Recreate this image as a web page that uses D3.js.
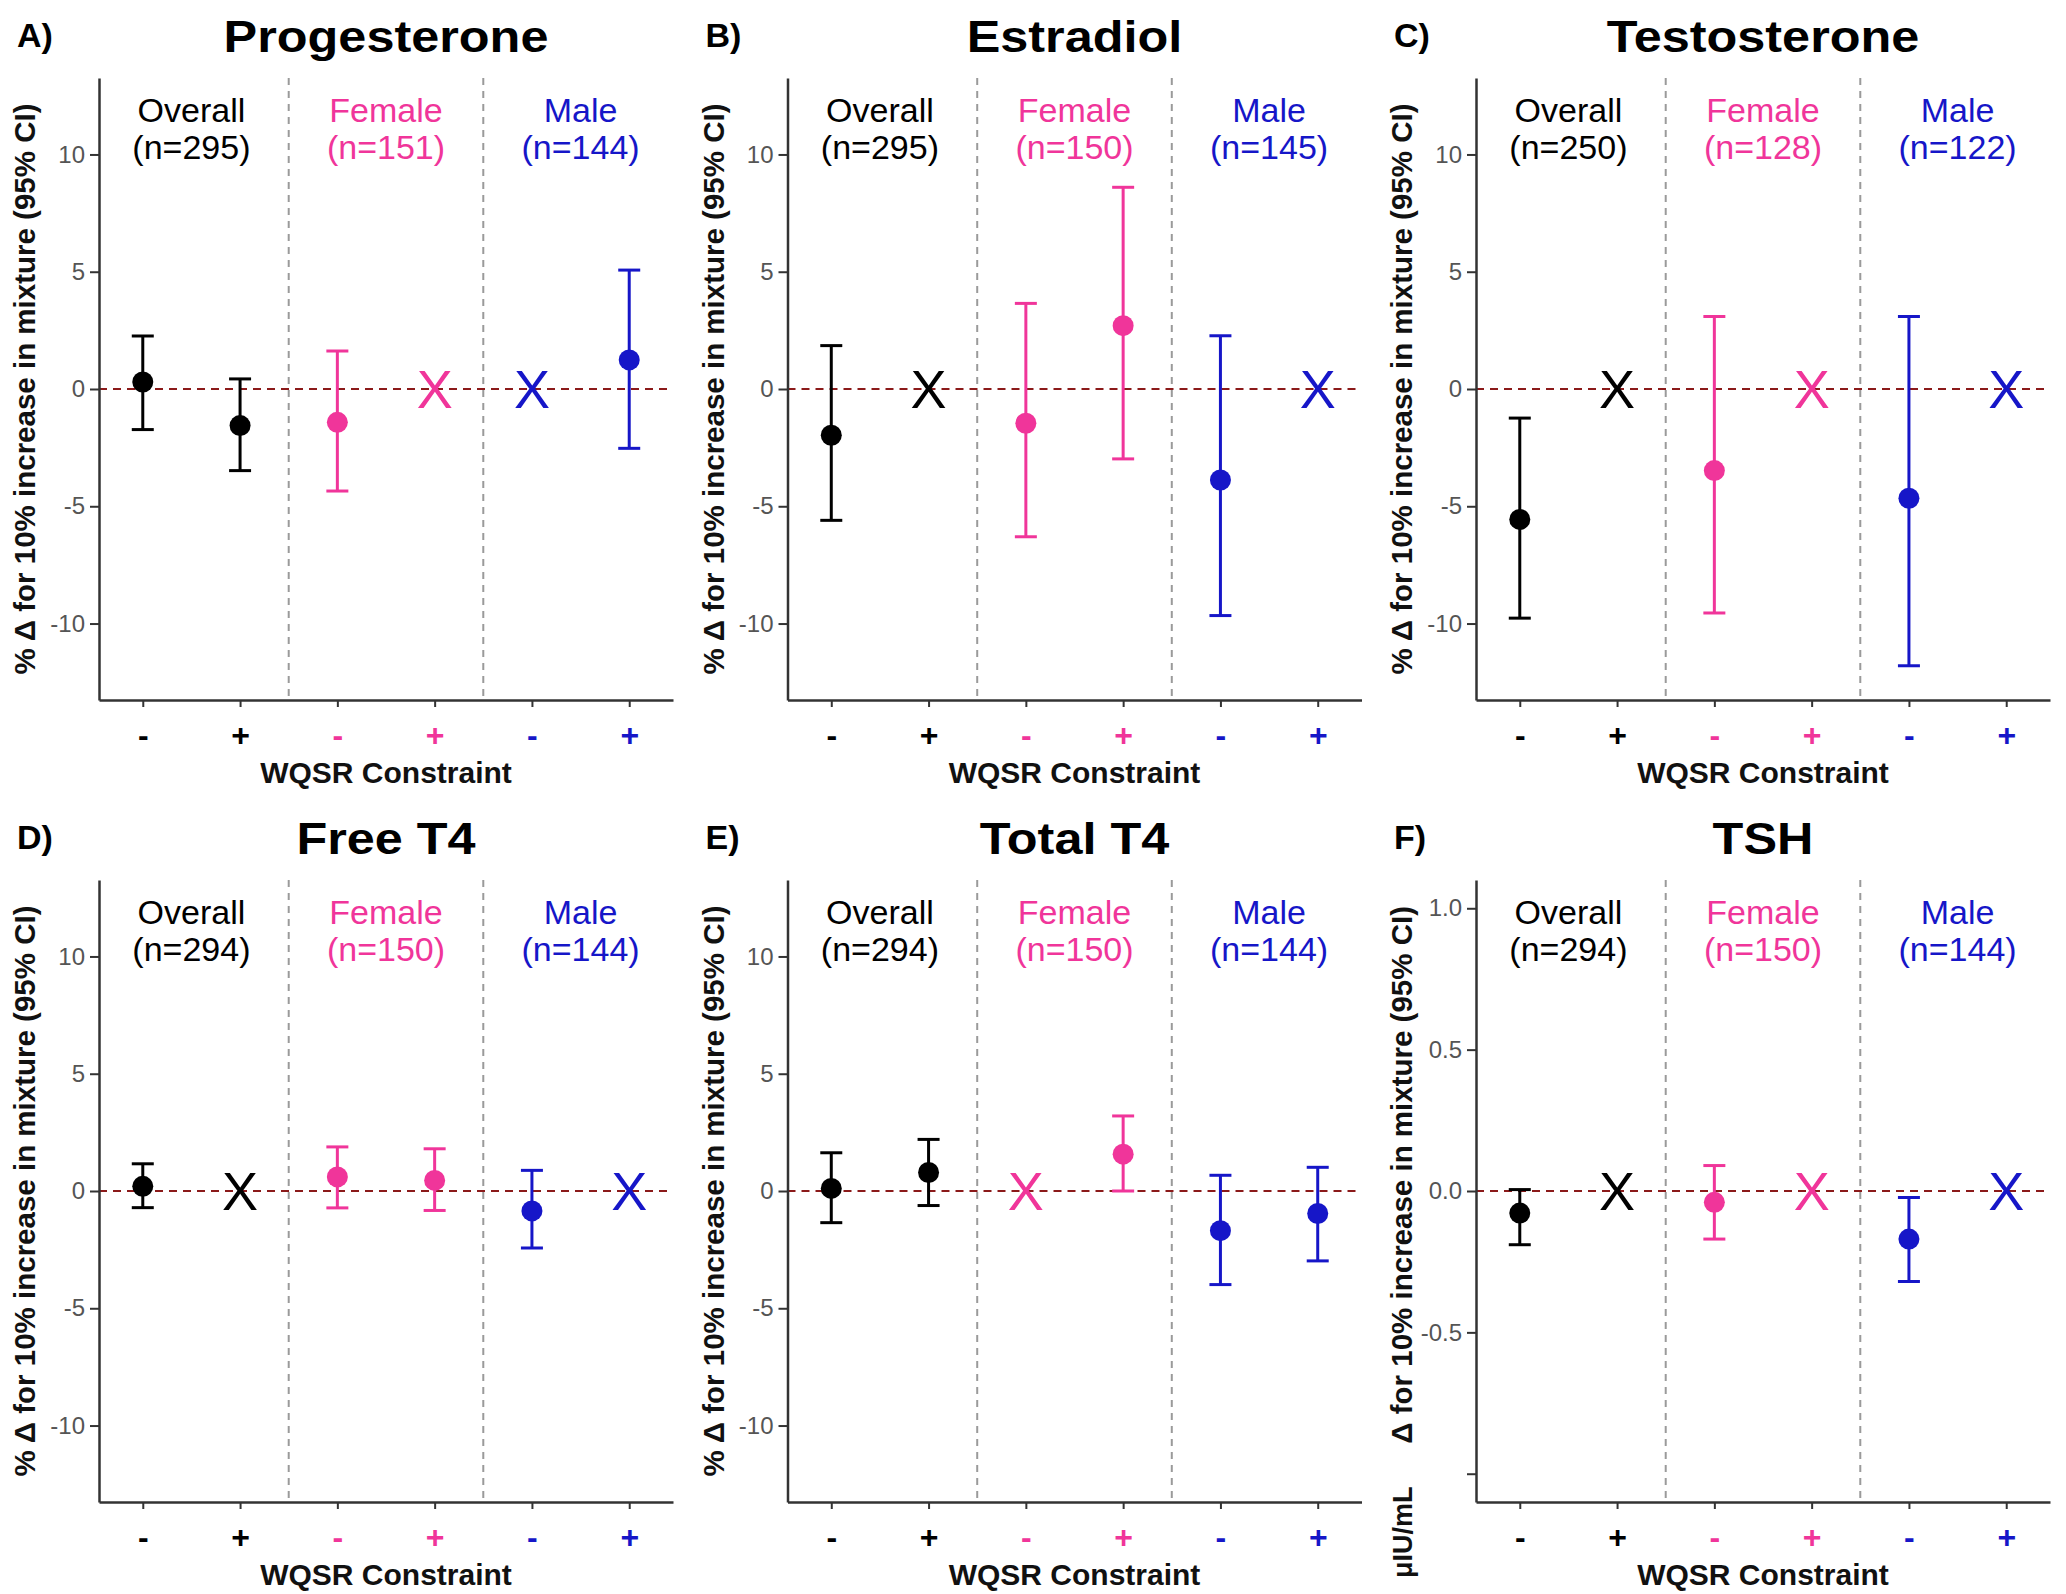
<!DOCTYPE html>
<html>
<head>
<meta charset="utf-8">
<script src="https://cdn.jsdelivr.net/npm/d3@7"></script>
<style>
  html, body { margin: 0; padding: 0; background: #fff; }
  svg { display: block; font-family: "Liberation Sans", Arial, Helvetica, sans-serif; }
</style>
</head>
<body>
<script>
// ---------------- DATA ----------------
const panelLetters = ["A)", "B)", "C)", "D)", "E)", "F)"];
const hormones = ["Progesterone", "Estradiol", "Testosterone", "Free T4", "Total T4", "TSH"];
const groups = ["Overall", "Female", "Male"];
const groupColors = ["#000000", "#F0359A", "#1616C8"];
const groupN = [
  [295, 151, 144],
  [295, 150, 145],
  [250, 128, 122],
  [294, 150, 144],
  [294, 150, 144],
  [294, 150, 144]
];
const constraints = ["-", "+", "-", "+", "-", "+"];
// category order: Overall -, Overall +, Female -, Female +, Male -, Male +  (null = not estimable -> "X")
const estimates = [
  [0.30, -1.56, -1.42, null, null, 1.24],
  [-1.97, null, -1.46, 2.70, -3.88, null],
  [-5.56, null, -3.48, null, -4.66, null],
  [0.20, null, 0.60, 0.45, -0.85, null],
  [0.11, 0.79, null, 1.57, -1.69, -0.96],
  [-0.078, null, -0.04, null, -0.17, null]
];
const lowerCI = [
  [-1.73, -3.48, -4.35, null, null, -2.53],
  [-5.60, null, -6.30, -2.98, -9.66, null],
  [-9.77, null, -9.55, null, -11.80, null],
  [-0.71, null, -0.72, -0.83, -2.43, null],
  [-1.35, -0.62, null, 0.00, -3.99, -2.98],
  [-0.19, null, -0.17, null, -0.32, null]
];
const upperCI = [
  [2.26, 0.43, 1.62, null, null, 5.07],
  [1.85, null, 3.65, 8.60, 2.27, null],
  [-1.24, null, 3.09, null, 3.09, null],
  [1.16, null, 1.88, 1.80, 0.88, null],
  [1.63, 2.20, null, 3.20, 0.67, 1.01],
  [0.005, null, 0.09, null, -0.023, null]
];
const pctDomain = [-13.26, 13.26];
const pctTicks = [-10, -5, 0, 5, 10];
const pctTickLabels = ["-10", "-5", "0", "5", "10"];
const tshDomain = [-1.1, 1.1];
const tshTicks = [-1.0, -0.5, 0, 0.5, 1.0];
const tshTickLabels = ["", "-0.5", "0.0", "0.5", "1.0"];
const yTitle = "% \u0394 for 10% increase in mixture (95% CI)";
const tshTitle = "\u0394 for 10% increase in mixture (95% CI)";
const tshUnit = "\u03BCIU/mL";
const xTitle = "WQSR Constraint";

// ---------------- LAYOUT ----------------
const W = 2066, H = 1594;
const colStep = 688.5, rowStep = 802;
const plotW = 574;

const svg = d3.select("body").append("svg")
  .attr("width", W).attr("height", H).attr("viewBox", `0 0 ${W} ${H}`);
svg.append("rect").attr("width", W).attr("height", H).attr("fill", "#fff");

const catColor = i => groupColors[Math.floor(i / 2)];

hormones.forEach((hormone, p) => {
  const col = p % 3, row = Math.floor(p / 3);
  const x0 = 99 + col * colStep, x1 = x0 + plotW;
  const yTop = 78 + row * rowStep, yBot = 700 + row * rowStep;
  const isTSH = hormone === "TSH";

  const x = d3.scaleLinear().domain([0.55, 6.45]).range([x0, x1]);
  const y = d3.scaleLinear().domain(isTSH ? tshDomain : pctDomain).range([yBot, yTop]);

  const g = svg.append("g");

  // panel letter
  g.append("text").attr("x", 17 + col * colStep).attr("y", 47 + row * rowStep)
    .attr("font-size", 34).attr("font-weight", "bold").attr("fill", "#000")
    .text(panelLetters[p]);

  // title
  g.append("g").attr("transform", `translate(${(x0 + x1) / 2},${yTop - 26})`)
    .append("text").attr("transform", "scale(1.12,1)")
    .attr("text-anchor", "middle").attr("font-size", 45).attr("font-weight", "bold")
    .attr("fill", "#000").text(hormone);

  // separators
  [2.5, 4.5].forEach(v => {
    g.append("line").attr("x1", x(v)).attr("x2", x(v)).attr("y1", yTop).attr("y2", yBot)
      .attr("stroke", "#9a9a9a").attr("stroke-width", 2).attr("stroke-dasharray", "7,6");
  });

  // zero line
  g.append("line").attr("x1", x0).attr("x2", x1).attr("y1", y(0)).attr("y2", y(0))
    .attr("stroke", "#8B1A1A").attr("stroke-width", 2).attr("stroke-dasharray", "8,6");

  // y axis
  const ticks = isTSH ? tshTicks : pctTicks;
  const tickLabs = isTSH ? tshTickLabels : pctTickLabels;
  const yAxis = d3.axisLeft(y)
    .tickValues(ticks)
    .tickSize(9).tickSizeOuter(0).tickPadding(5)
    .tickFormat((d, i) => tickLabs[i]);
  const ya = g.append("g").attr("transform", `translate(${x0},0)`).call(yAxis);
  ya.select(".domain").attr("stroke", "#333").attr("stroke-width", 2.5);
  ya.selectAll(".tick line").attr("stroke", "#333").attr("stroke-width", 2);
  ya.selectAll(".tick text").attr("font-size", 24).attr("fill", "#555")
    .attr("font-family", "'Liberation Sans', Arial, sans-serif");

  // x axis
  const xAxis = d3.axisBottom(x).tickValues([1, 2, 3, 4, 5, 6])
    .tickSize(7).tickSizeOuter(0).tickPadding(16)
    .tickFormat(d => constraints[d - 1]);
  const xa = g.append("g").attr("transform", `translate(0,${yBot})`).call(xAxis);
  xa.select(".domain").attr("stroke", "#333").attr("stroke-width", 2.5);
  xa.selectAll(".tick line").attr("stroke", "#333").attr("stroke-width", 2);
  xa.selectAll(".tick text").attr("font-size", 32).attr("font-weight", "bold")
    .attr("font-family", "'Liberation Sans', Arial, sans-serif")
    .attr("fill", d => catColor(d - 1));

  // x title
  g.append("text").attr("x", (x0 + x1) / 2).attr("y", yBot + 83)
    .attr("text-anchor", "middle").attr("font-size", 30).attr("font-weight", "bold")
    .attr("fill", "#111").text(xTitle);

  // y title
  const ytx = 35 + col * colStep;
  if (!isTSH) {
    g.append("text").attr("transform", `translate(${ytx},${(yTop + yBot) / 2}) rotate(-90)`)
      .attr("text-anchor", "middle").attr("font-size", 29.5).attr("font-weight", "bold")
      .attr("fill", "#111").text(yTitle);
  } else {
    g.append("text").attr("transform", `translate(${ytx},906) rotate(-90)`)
      .attr("text-anchor", "end").attr("font-size", 29.5).attr("font-weight", "bold")
      .attr("fill", "#111").text(tshTitle);
    g.append("text").attr("transform", `translate(${ytx},1578) rotate(-90)`)
      .attr("text-anchor", "start").attr("font-size", 27).attr("font-weight", "bold")
      .attr("fill", "#111").text(tshUnit);
  }

  // group labels (two separate lines)
  groups.forEach((grp, k) => {
    const cx = x(1.5 + 2 * k);
    g.append("text").attr("x", cx).attr("y", yTop + 44)
      .attr("text-anchor", "middle").attr("font-size", 34)
      .attr("fill", groupColors[k]).text(grp);
    g.append("text").attr("x", cx).attr("y", yTop + 81)
      .attr("text-anchor", "middle").attr("font-size", 34)
      .attr("fill", groupColors[k]).text(`(n=${groupN[p][k]})`);
  });

  // marks
  estimates[p].forEach((est, i) => {
    const cx = x(i + 1);
    const c = catColor(i);
    if (est === null) {
      const fs = 54;
      g.append("text").attr("x", cx).attr("y", y(0) + 0.358 * fs)
        .attr("text-anchor", "middle").attr("font-size", fs).attr("fill", c)
        .attr("font-family", "'Liberation Sans', Arial, sans-serif").text("X");
      return;
    }
    const lo = lowerCI[p][i], hi = upperCI[p][i];
    g.append("line").attr("x1", cx).attr("x2", cx).attr("y1", y(lo)).attr("y2", y(hi))
      .attr("stroke", c).attr("stroke-width", 3);
    [lo, hi].forEach(v => {
      g.append("line").attr("x1", cx - 11).attr("x2", cx + 11).attr("y1", y(v)).attr("y2", y(v))
        .attr("stroke", c).attr("stroke-width", 3);
    });
    g.append("circle").attr("cx", cx).attr("cy", y(est)).attr("r", 10.5).attr("fill", c);
  });
});
</script>
</body>
</html>
